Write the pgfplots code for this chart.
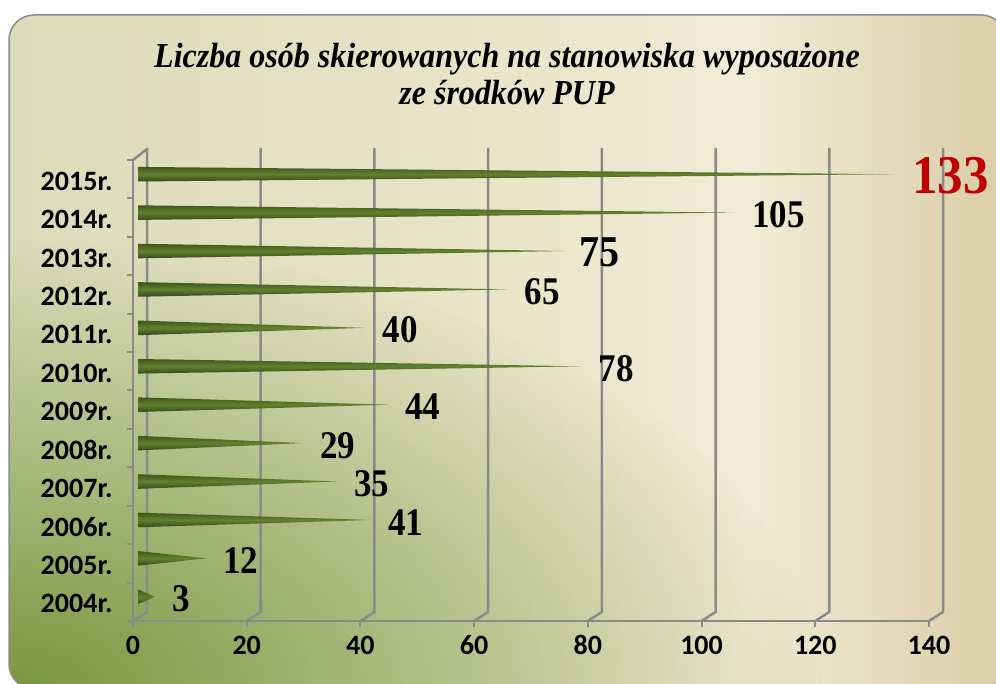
\documentclass[border=0pt]{standalone}
\usepackage{pgfplots}
\pgfplotsset{compat=1.18}
\usepackage{fontspec}
\setmainfont{Liberation Serif}
\newfontfamily\carlito{Carlito}
\usetikzlibrary{fadings,calc}

\definecolor{bgA}{HTML}{DADCBA}
\definecolor{bgB}{HTML}{EAE6CB}
\definecolor{bgC}{HTML}{F1ECD7}
\definecolor{bgD}{HTML}{DACDA6}
\definecolor{bgG}{HTML}{7A9640}
\definecolor{gridc}{HTML}{8A8A8A}
\definecolor{cardb}{HTML}{8C8C8C}
\definecolor{coneT}{HTML}{3E5618}
\definecolor{coneM}{HTML}{63812F}
\definecolor{coneB}{HTML}{33481A}
\definecolor{hired}{HTML}{C00000}

\pgfdeclarehorizontalshading{bgshade}{100bp}{color(0bp)=(bgA); color(25bp)=(bgA); color(52bp)=(bgB); color(62bp)=(bgC); color(75bp)=(bgD); color(100bp)=(bgD)}
\tikzfading[name=glow, inner color=transparent!0, outer color=transparent!100]

\begin{document}
\begin{tikzpicture}[x=1pt,y=1pt]
\useasboundingbox (0,0) rectangle (996,684);
\fill[white] (0,0) rectangle (996,684);
\begin{scope}
\clip[rounded corners=25] (9,-5) rectangle (1006,669);
\shade[shading=bgshade] (9,-5) rectangle (1006,669);
\fill[bgG, path fading=glow] (9,-5) ellipse (820 and 450);
\end{scope}
\draw[cardb, line width=1.5pt, rounded corners=25] (9,-5) rectangle (1006,669);

\node[font=\bfseries\itshape\fontsize{35}{37}\selectfont, align=center, xscale=0.915] at (507,610)
  {Liczba osób skierowanych na stanowiska wyposażone\\ze środków PUP};

\begin{axis}[
  at={(133pt,63pt)}, anchor=south west, scale only axis,
  width=796pt, height=461pt,
  xmin=0, xmax=140, ymin=-0.5, ymax=11.5, clip=false,
  axis lines*=left,
  axis line style={gridc, line width=2.5pt},
  xtick={0,20,...,140},
  ytick={-0.5,0.5,...,11.5}, yticklabels={},
  extra y ticks={0,1,...,11},
  extra y tick labels={2004r.,2005r.,2006r.,2007r.,2008r.,2009r.,2010r.,2011r.,2012r.,2013r.,2014r.,2015r.},
  extra y tick style={tick style={draw=none}, yticklabel style={xshift=-11pt, yshift=-2pt}},
  tick align=outside, major tick length=6pt,
  tick style={gridc, line width=2pt},
  /pgf/number format/assume math mode=true,
  ticklabel style={font=\carlito\bfseries\fontsize{28}{28}\selectfont, text=black},
  xticklabel style={anchor=north, text height=17pt, text depth=0pt, inner sep=0pt, yshift=-10pt},
]
\pgfplotsinvokeforeach{0,20,...,140}{
  \draw[gridc, line width=2.5pt] (axis cs:#1,-0.5) -- ++(14pt,9pt) -- ($(axis cs:#1,11.5)+(14pt,12pt)$);
}
\draw[gridc, line width=2.5pt] (axis cs:0,11.5) -- ++(14pt,11pt);

% cones: base at x=0, tip at the value
\addplot[draw=none, top color=coneT, bottom color=coneB, middle color=coneM, xshift=5pt, yshift=5pt] coordinates {(0,0.19) (3,0) (0,-0.19)} -- cycle;
\addplot[draw=none, top color=coneT, bottom color=coneB, middle color=coneM, xshift=5pt, yshift=5pt] coordinates {(0,1.19) (12,1) (0,0.81)} -- cycle;
\addplot[draw=none, top color=coneT, bottom color=coneB, middle color=coneM, xshift=5pt, yshift=5pt] coordinates {(0,2.19) (41,2) (0,1.81)} -- cycle;
\addplot[draw=none, top color=coneT, bottom color=coneB, middle color=coneM, xshift=5pt, yshift=5pt] coordinates {(0,3.19) (35,3) (0,2.81)} -- cycle;
\addplot[draw=none, top color=coneT, bottom color=coneB, middle color=coneM, xshift=5pt, yshift=5pt] coordinates {(0,4.19) (29,4) (0,3.81)} -- cycle;
\addplot[draw=none, top color=coneT, bottom color=coneB, middle color=coneM, xshift=5pt, yshift=5pt] coordinates {(0,5.19) (44,5) (0,4.81)} -- cycle;
\addplot[draw=none, top color=coneT, bottom color=coneB, middle color=coneM, xshift=5pt, yshift=5pt] coordinates {(0,6.19) (78,6) (0,5.81)} -- cycle;
\addplot[draw=none, top color=coneT, bottom color=coneB, middle color=coneM, xshift=5pt, yshift=5pt] coordinates {(0,7.19) (40,7) (0,6.81)} -- cycle;
\addplot[draw=none, top color=coneT, bottom color=coneB, middle color=coneM, xshift=5pt, yshift=5pt] coordinates {(0,8.19) (65,8) (0,7.81)} -- cycle;
\addplot[draw=none, top color=coneT, bottom color=coneB, middle color=coneM, xshift=5pt, yshift=5pt] coordinates {(0,9.19) (75,9) (0,8.81)} -- cycle;
\addplot[draw=none, top color=coneT, bottom color=coneB, middle color=coneM, xshift=5pt, yshift=5pt] coordinates {(0,10.19) (105,10) (0,9.81)} -- cycle;
\addplot[draw=none, top color=coneT, bottom color=coneB, middle color=coneM, xshift=5pt, yshift=5pt] coordinates {(0,11.19) (133,11) (0,10.81)} -- cycle;

% value labels
\addplot[draw=none, mark=none, nodes near coords, point meta=x,
  nodes near coords align=horizontal,
  every node near coord/.append style={font=\bfseries\fontsize{35}{35}\selectfont, inner sep=0pt, anchor=west, yscale=1.12, xshift=22pt, yshift=2.5pt, text=black}]
  coordinates {(3,0) (12,1) (41,2) (35,3) (29,4) (44,5) (78,6) (40,7) (65,8) (105,10)};
\addplot[draw=none, mark=none, nodes near coords, point meta=x,
  nodes near coords align=horizontal,
  every node near coord/.append style={font=\bfseries\fontsize{40}{40}\selectfont, inner sep=0pt, anchor=west, yscale=1.1, xshift=20pt, yshift=3pt, text=black}]
  coordinates {(75,9)};
\addplot[draw=none, mark=none, nodes near coords, point meta=x,
  nodes near coords align=horizontal,
  every node near coord/.append style={font=\bfseries\fontsize{51}{51}\selectfont, inner sep=0pt, anchor=west, yscale=1.07, xshift=23pt, yshift=3pt, text=hired}]
  coordinates {(133,11)};
\end{axis}
\end{tikzpicture}
\end{document}
